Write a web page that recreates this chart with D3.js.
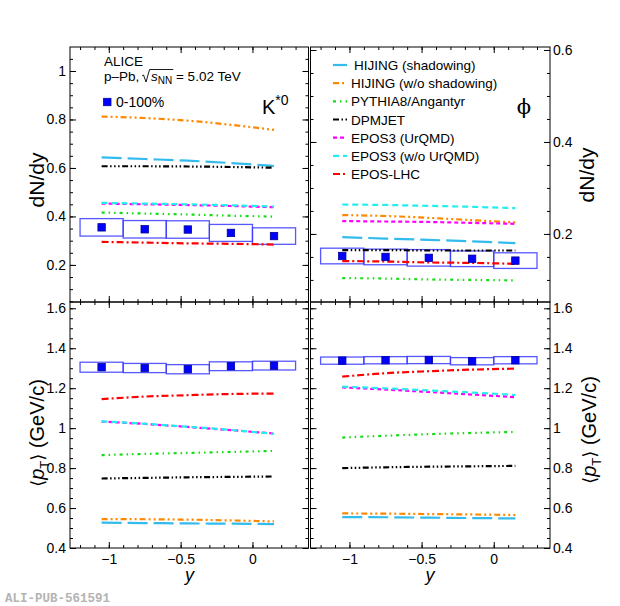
<!DOCTYPE html>
<html>
<head>
<meta charset="utf-8">
<script src="https://cdn.jsdelivr.net/npm/d3@7"></script>
<style>
body { margin: 0; background: #fff; }
</style>
</head>
<body>
<svg id="chart" width="620" height="606" font-family="'Liberation Sans', Arial, sans-serif"></svg>
<script>
// rapidity bins (centres) and half width
const rapidity = [-1.05, -0.75, -0.45, -0.15, 0.15];
const binHalfWidth = 0.15;

const modelNames = ["HIJING (shadowing)", "HIJING (w/o shadowing)", "PYTHIA8/Angantyr", "DPMJET",
    "EPOS3 (UrQMD)", "EPOS3 (w/o UrQMD)", "EPOS-LHC"];
const modelColors = ["#33bbee", "#ff8800", "#11dd11", "#000000", "#ff00ff", "#22eef0", "#ff0000"];
const modelDashes = ["20,6", "6,3,2,3,2,3", "3,4,1.5,4,1.5,4", "6,2.5,1.5,2.5,1.5,2.5,1.5,2.5",
    "4,3", "6,4", "7,3,2,3"];

// measured points, 0-100%
const kDndy = [0.355, 0.347, 0.346, 0.332, 0.319];
const kDndySys = [0.036, 0.036, 0.036, 0.035, 0.034];
const phiDndy = [0.152, 0.150, 0.148, 0.146, 0.142];
const phiDndySys = [0.017, 0.017, 0.018, 0.017, 0.017];
const kMeanPt = [1.305, 1.301, 1.295, 1.310, 1.313];
const kMeanPtSys = [0.025, 0.023, 0.023, 0.022, 0.022];
const phiMeanPt = [1.338, 1.340, 1.341, 1.335, 1.340];
const phiMeanPtSys = [0.018, 0.018, 0.018, 0.018, 0.018];

// model curves, same order as modelNames
const kDndyModels = [
    [0.644, 0.637, 0.630, 0.620, 0.608],
    [0.812, 0.806, 0.795, 0.778, 0.757],
    [0.416, 0.412, 0.408, 0.403, 0.399],
    [0.607, 0.607, 0.606, 0.604, 0.601],
    [0.453, 0.450, 0.447, 0.443, 0.438],
    [0.456, 0.453, 0.450, 0.446, 0.441],
    [0.295, 0.292, 0.289, 0.287, 0.284]
];
const phiDndyModels = [
    [0.193, 0.190, 0.187, 0.184, 0.180],
    [0.241, 0.239, 0.235, 0.230, 0.225],
    [0.104, 0.103, 0.101, 0.100, 0.099],
    [0.165, 0.165, 0.164, 0.164, 0.164],
    [0.228, 0.227, 0.226, 0.224, 0.222],
    [0.264, 0.263, 0.261, 0.259, 0.256],
    [0.141, 0.140, 0.138, 0.137, 0.135]
];
const kMeanPtModels = [
    [0.527, 0.525, 0.523, 0.522, 0.520],
    [0.545, 0.544, 0.542, 0.538, 0.533],
    [0.865, 0.871, 0.876, 0.881, 0.886],
    [0.748, 0.751, 0.754, 0.756, 0.758],
    [1.033, 1.021, 1.006, 0.990, 0.973],
    [1.034, 1.022, 1.007, 0.991, 0.971],
    [1.145, 1.158, 1.165, 1.171, 1.173]
];
const phiMeanPtModels = [
    [0.555, 0.554, 0.552, 0.550, 0.548],
    [0.573, 0.572, 0.570, 0.568, 0.565],
    [0.953, 0.962, 0.970, 0.976, 0.981],
    [0.800, 0.804, 0.807, 0.809, 0.811],
    [1.204, 1.193, 1.181, 1.168, 1.155],
    [1.208, 1.199, 1.189, 1.178, 1.166],
    [1.258, 1.275, 1.285, 1.293, 1.298]
];

// tick labels
const xTicks = [-1, -0.5, 0];
const kDndyTicks = [0.2, 0.4, 0.6, 0.8, 1];
const phiDndyTicks = [0.2, 0.4, 0.6];
const meanPtTicks = [0.4, 0.6, 0.8, 1, 1.2, 1.4, 1.6];

const svg = d3.select("#chart");
const xDomain = [-1.27, 0.39];
const fmt = d3.format("~g");
const labelSize = 14;

const panels = [
    { x0: 70, x1: 308.5, y0: 47, y1: 302, yDomain: [0.047, 1.099], vals: kDndy, sys: kDndySys,
      models: kDndyModels, ticks: kDndyTicks, labelSide: "left", xLabels: false },
    { x0: 310.5, x1: 550, y0: 47, y1: 302, yDomain: [0.052, 0.6065], vals: phiDndy, sys: phiDndySys,
      models: phiDndyModels, ticks: phiDndyTicks, labelSide: "right", xLabels: false },
    { x0: 70, x1: 308.5, y0: 302, y1: 548, yDomain: [0.4, 1.6315], vals: kMeanPt, sys: kMeanPtSys,
      models: kMeanPtModels, ticks: meanPtTicks, labelSide: "left", xLabels: true },
    { x0: 310.5, x1: 550, y0: 302, y1: 548, yDomain: [0.4, 1.6315], vals: phiMeanPt, sys: phiMeanPtSys,
      models: phiMeanPtModels, ticks: meanPtTicks, labelSide: "right", xLabels: true }
];

function styleAxis(g) {
    g.select(".domain").remove();
    g.attr("font-family", null).attr("font-size", labelSize);
    g.selectAll(".tick line").attr("stroke", "#000").attr("stroke-width", 1);
    g.selectAll(".tick text").attr("fill", "#000");
}

function drawPanel(p, idx) {
    const x = d3.scaleLinear().domain(xDomain).range([p.x0, p.x1]);
    const y = d3.scaleLinear().domain(p.yDomain).range([p.y1, p.y0]);
    const g = svg.append("g").attr("class", "panel" + idx);

    g.append("clipPath").attr("id", "clip" + idx)
        .append("rect")
        .attr("x", p.x0).attr("y", p.y0)
        .attr("width", p.x1 - p.x0).attr("height", p.y1 - p.y0);
    const plot = g.append("g").attr("clip-path", `url(#clip${idx})`);

    // systematic boxes
    plot.selectAll(".sys")
        .data(p.vals)
        .join("rect")
        .attr("class", "sys")
        .attr("x", (d, i) => x(rapidity[i] - binHalfWidth))
        .attr("width", (d, i) => x(rapidity[i] + binHalfWidth) - x(rapidity[i] - binHalfWidth))
        .attr("y", (d, i) => y(d + p.sys[i]))
        .attr("height", (d, i) => y(d - p.sys[i]) - y(d + p.sys[i]))
        .attr("fill", "none")
        .attr("stroke", "#3a3aff")
        .attr("stroke-width", 1.3)
        .attr("stroke-opacity", 0.85);

    // model curves
    const line = d3.line()
        .x((d, i) => x(rapidity[i]))
        .y(d => y(d))
        .curve(d3.curveMonotoneX);
    plot.selectAll(".model")
        .data(p.models)
        .join("path")
        .attr("class", "model")
        .attr("d", line)
        .attr("fill", "none")
        .attr("stroke", (d, i) => modelColors[i])
        .attr("stroke-width", 2.2)
        .attr("stroke-dasharray", (d, i) => modelDashes[i]);

    // data markers
    plot.selectAll(".pt")
        .data(p.vals)
        .join("rect")
        .attr("class", "pt")
        .attr("x", (d, i) => x(rapidity[i]) - 3.7)
        .attr("y", d => y(d) - 3.7)
        .attr("width", 7.4)
        .attr("height", 7.4)
        .attr("fill", "#0000ff")
        .attr("stroke", "#000099")
        .attr("stroke-width", 0.8);

    // frame
    g.append("rect")
        .attr("x", p.x0).attr("y", p.y0)
        .attr("width", p.x1 - p.x0).attr("height", p.y1 - p.y0)
        .attr("fill", "none")
        .attr("stroke", "#000")
        .attr("stroke-width", 1);

    const xMinor = d3.range(-1.2, 0.35, 0.1);
    const yMinor = d3.range(0.05, p.yDomain[1], 0.05).filter(v => v > p.yDomain[0]);

    // bottom
    g.append("g").attr("transform", `translate(0,${p.y1})`)
        .call(d3.axisBottom(x).tickValues(xMinor).tickSize(-3).tickFormat(""))
        .call(styleAxis);
    g.append("g").attr("transform", `translate(0,${p.y1})`)
        .call(d3.axisBottom(x).tickValues(xTicks).tickSize(-6).tickPadding(6)
            .tickFormat(p.xLabels ? fmt : ""))
        .call(styleAxis);
    // top
    g.append("g").attr("transform", `translate(0,${p.y0})`)
        .call(d3.axisBottom(x).tickValues(xMinor).tickSize(3).tickFormat(""))
        .call(styleAxis);
    g.append("g").attr("transform", `translate(0,${p.y0})`)
        .call(d3.axisBottom(x).tickValues(xTicks).tickSize(6).tickFormat(""))
        .call(styleAxis);
    // left
    g.append("g").attr("transform", `translate(${p.x0},0)`)
        .call(d3.axisLeft(y).tickValues(yMinor).tickSize(-3).tickFormat(""))
        .call(styleAxis);
    g.append("g").attr("transform", `translate(${p.x0},0)`)
        .call(d3.axisLeft(y).tickValues(p.ticks).tickSize(-6).tickPadding(4)
            .tickFormat(p.labelSide == "left" ? fmt : ""))
        .call(styleAxis);
    // right
    g.append("g").attr("transform", `translate(${p.x1},0)`)
        .call(d3.axisRight(y).tickValues(yMinor).tickSize(-3).tickFormat(""))
        .call(styleAxis);
    g.append("g").attr("transform", `translate(${p.x1},0)`)
        .call(d3.axisRight(y).tickValues(p.ticks).tickSize(-6).tickPadding(3)
            .tickFormat(p.labelSide == "right" ? fmt : ""))
        .call(styleAxis);
}

panels.forEach(drawPanel);

// axis titles
function dndyTitle(cx, cy) {
    svg.append("text")
        .attr("transform", `translate(${cx},${cy}) rotate(-90)`)
        .attr("text-anchor", "middle")
        .attr("font-size", 21)
        .text("dN/dy");
}
function meanPtTitle(cx, cy) {
    const t = svg.append("text")
        .attr("transform", `translate(${cx},${cy}) rotate(-90)`)
        .attr("text-anchor", "middle")
        .attr("font-size", 20);
    t.append("tspan").attr("font-family", "'DejaVu Sans', sans-serif").attr("font-size", 18).text("\u27E8");
    t.append("tspan").attr("font-style", "italic").text("p");
    t.append("tspan").attr("font-size", 13).attr("dy", 5).text("T");
    t.append("tspan").attr("dy", -5).attr("font-family", "'DejaVu Sans', sans-serif").attr("font-size", 18).text("\u27E9");
    t.append("tspan").text(" (GeV/c)");
}
dndyTitle(44, 180);
dndyTitle(594, 175);
meanPtTitle(44, 433);
meanPtTitle(596, 430);

[189.5, 430].forEach(cx => {
    svg.append("text")
        .attr("x", cx).attr("y", 581)
        .attr("text-anchor", "middle")
        .attr("font-size", 18)
        .attr("font-style", "italic")
        .text("y");
});

// header
const header = svg.append("g").attr("font-size", 13.5);
header.append("text").attr("x", 104).attr("y", 65.5).text("ALICE");
const base = 81;
const energy = header.append("text").attr("x", 104).attr("y", base);
energy.append("tspan").text("p\u2013Pb, ");
energy.append("tspan").attr("dx", 8).attr("font-style", "italic").text("s");
energy.append("tspan").attr("font-size", 10).attr("dy", 3).text("NN");
energy.append("tspan").attr("dy", -3).text(" = 5.02 TeV");
const en = energy.node();
const sStart = en.getStartPositionOfChar(6).x;
const nnEnd = en.getEndPositionOfChar(8).x;
const r0 = sStart - 9;
header.append("path")
    .attr("d", `M${r0},${base - 5} L${r0 + 1.5},${base - 6} L${r0 + 4},${base + 1} L${r0 + 7.5},${base - 11.5} L${nnEnd + 1},${base - 11.5}`)
    .attr("fill", "none")
    .attr("stroke", "#000")
    .attr("stroke-width", 0.9);

header.append("rect")
    .attr("x", 103.6).attr("y", 98.3).attr("width", 7.4).attr("height", 7.4)
    .attr("fill", "#0000ff").attr("stroke", "#000099").attr("stroke-width", 0.8);
header.append("text").attr("x", 116).attr("y", 106.5).attr("font-size", 14).text("0-100%");

const kLabel = svg.append("text").attr("x", 262).attr("y", 114).attr("font-size", 20);
kLabel.append("tspan").text("K");
kLabel.append("tspan").attr("font-size", 14).attr("dy", -9).text("*0");

svg.append("text")
    .attr("x", 524).attr("y", 114)
    .attr("text-anchor", "middle")
    .attr("font-family", "'DejaVu Serif', 'Liberation Serif', serif")
    .attr("font-size", 21)
    .text("\u03D5");

// legend
const legend = svg.append("g").attr("class", "legend");
const rowY = d3.scaleLinear().domain([0, 6]).range([65, 174]);
const rows = legend.selectAll("g")
    .data(modelNames)
    .join("g")
    .attr("transform", (d, i) => `translate(0,${rowY(i)})`);
rows.append("line")
    .attr("x1", 333).attr("x2", 347)
    .attr("stroke", (d, i) => modelColors[i])
    .attr("stroke-width", 2.2)
    .attr("stroke-dasharray", (d, i) => i == 0 ? null : modelDashes[i]);
rows.append("text")
    .attr("x", (d, i) => i == 0 ? 354 : 351)
    .attr("y", 5)
    .attr("font-size", 13.5)
    .text(d => d);

svg.append("text")
    .attr("x", 5).attr("y", 602)
    .attr("font-family", "'Liberation Mono', 'DejaVu Sans Mono', monospace")
    .attr("font-weight", "bold")
    .attr("font-size", 12.5)
    .attr("fill", "#b4b4b4")
    .text("ALI-PUB-561591");
</script>
</body>
</html>
